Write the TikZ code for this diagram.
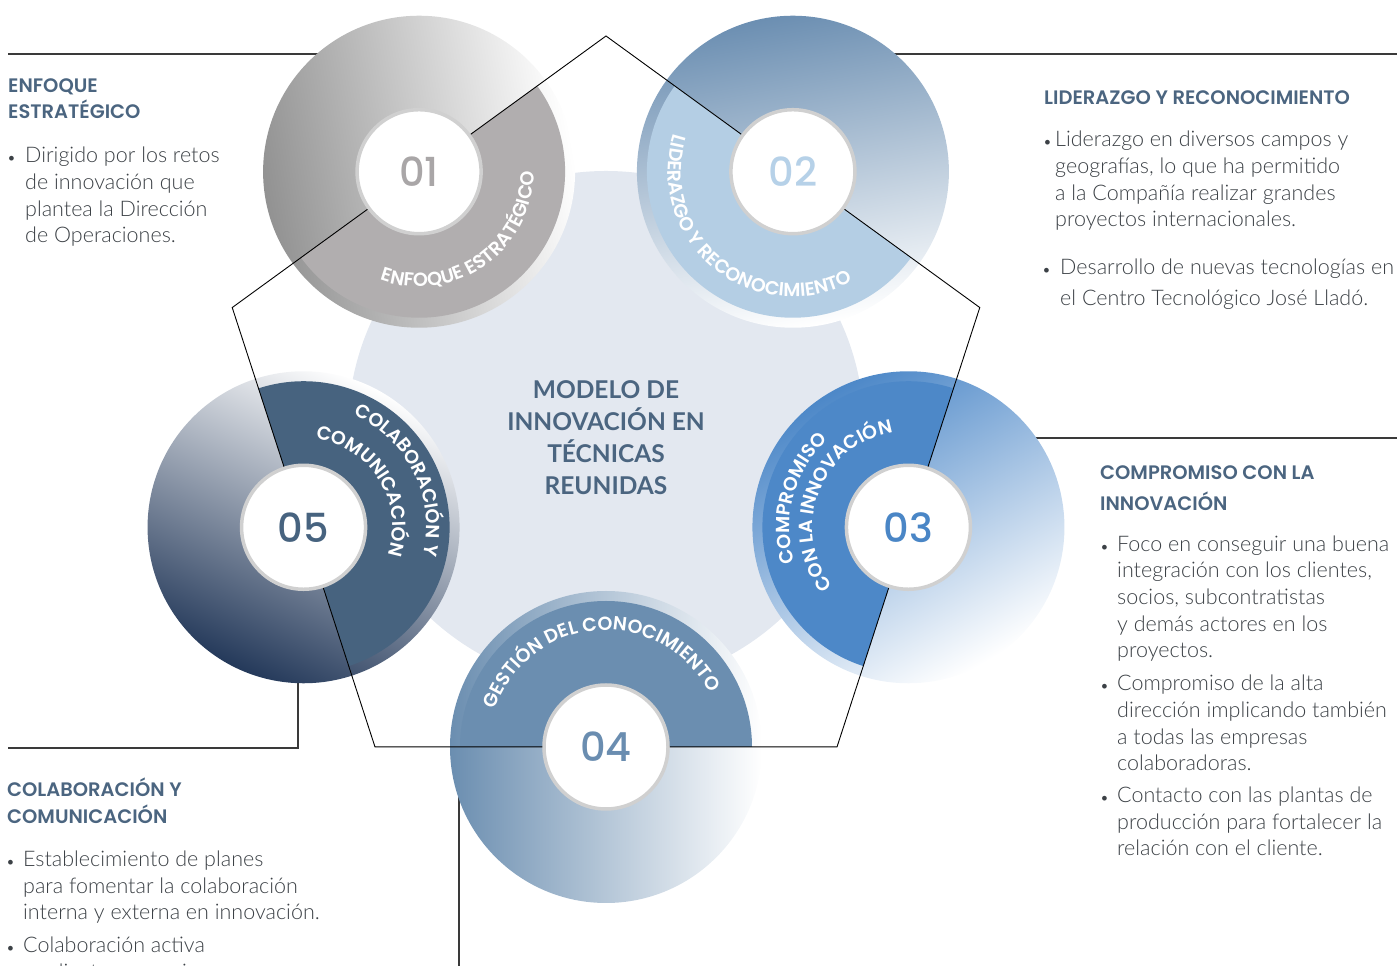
\documentclass[tikz,border=0pt]{standalone}
\usepackage{fontspec}
\setmainfont{Lato Light}[BoldFont=Lato Bold]
\newfontfamily\headfont{Poppins SemiBold}
\newfontfamily\numfont{Poppins Medium}
\usepackage{graphicx}
\usepackage{tikz}
\usetikzlibrary{calc,decorations.text}
\definecolor{slate}{HTML}{4B6580}
\definecolor{bodyink}{HTML}{3C4146}
\definecolor{hubback}{HTML}{E3E8F0}
\definecolor{hubrim}{HTML}{D0D0D0}
\definecolor{linkink}{HTML}{3A3A3A}
\definecolor{ringa}{HTML}{B1AEAF}
\definecolor{shadea}{HTML}{929292}
\definecolor{numa}{HTML}{A9A6A7}
\definecolor{ringb}{HTML}{B4CEE4}
\definecolor{shadeb}{HTML}{6C8FB2}
\definecolor{numb}{HTML}{B6D1E8}
\definecolor{ringc}{HTML}{4D88C8}
\definecolor{shadec}{HTML}{4D88C8}
\definecolor{numc}{HTML}{4A86C6}
\definecolor{ringd}{HTML}{6B8EB0}
\definecolor{shaded}{HTML}{6B8EB0}
\definecolor{numd}{HTML}{6A8DB0}
\definecolor{ringe}{HTML}{47637F}
\definecolor{shadee}{HTML}{24395A}
\definecolor{nume}{HTML}{47637F}
\tikzset{
  hub/.style={circle,fill=white,draw=hubrim,line width=3.5pt,minimum size=124pt,
    inner sep=0pt,font=\numfont\fontsize{40}{40}\selectfont},
  link/.style={draw=linkink,line width=1.2pt},
  edge/.style={draw=black,line width=0.9pt},
  head/.style={anchor=base west,align=left,inner sep=0pt,text=slate,
    font=\headfont\fontsize{19.5}{26}\selectfont},
  body/.style={anchor=base west,align=left,inner sep=0pt,text=bodyink,
    font=\fontsize{21.5}{26.7}\selectfont},
  title/.style={align=center,text=slate,font=\bfseries\fontsize{24.5}{32}\selectfont},
  arctext/.style={decorate,decoration={text along path,text={#1},text align=center,
    text color=white}}
}
\newcommand{\arcfont}{\headfont\fontsize{19}{19}\selectfont}
\newcommand{\bul}[1][8pt]{\llap{\raisebox{-1pt}{\scalebox{0.75}{•}}\hspace{#1}}}
\newcommand{\ringdisc}[5]{%
  \shade[top color=#4,bottom color=white,shading angle=#5] (#1) circle[radius=156];
  \fill[#3] (#1) ++(#2+90:146) arc[start angle=#2+90,end angle=#2+270,radius=146] -- cycle;
}

\begin{document}
\begin{tikzpicture}[x=1pt,y=1pt]
\useasboundingbox (0,0) rectangle (1397,966);
\clip (0,0) rectangle (1397,966);
\coordinate (pc) at (606,537);
\foreach \k/\a in {1/90,2/18,3/-54,4/-126,5/162}
  \coordinate (p\k) at ($(pc)+(\a:393)$);
\coordinate (c1) at ($(pc)+(126:318)$);
\coordinate (c2) at ($(pc)+(54:318)$);
\coordinate (c3) at ($(pc)+(-18:318)$);
\coordinate (c4) at ($(pc)+(-90:318)$);
\coordinate (c5) at ($(pc)+(198:318)$);

\fill[hubback] (pc) circle[radius=258];

\coordinate (tl) at (8,912);
\coordinate (tr) at (1397,912);
\coordinate (mr) at (1397,528);
\coordinate (bl) at (8,218);
\coordinate (bk) at (298,218);
\coordinate (bm) at (459,0);
\draw[link] (tl) -- (tl -| c1);
\draw[link] (tr) -- (tr -| c2);
\draw[link] (mr) -- (mr -| c3);
\draw[link] (bl) -- (bk) -- (bk |- c5);
\draw[link] (bm) -- (bm |- c4);

\ringdisc{c1}{126}{ringa}{shadea}{100}
\ringdisc{c2}{54}{ringb}{shadeb}{10}
\ringdisc{c3}{-18}{ringc}{shadec}{30}
\ringdisc{c4}{-90}{ringd}{shaded}{90}
\ringdisc{c5}{198}{ringe}{shadee}{155}

\draw[edge] (p1) -- (p2) -- (p3) -- (p4) -- (p5) -- cycle;

\node[hub,text=numa] (n1) at (c1) {01};
\node[hub,text=numb] (n2) at (c2) {02};
\node[hub,text=numc] (n3) at (c3) {03};
\node[hub,text=numd] (n4) at (c4) {04};
\node[hub,text=nume] (n5) at (c5) {05};

\path[arctext={|\arcfont|ENFOQUE ESTRATÉGICO}]
  ($(c1)+(235:115)$) arc[start angle=235,end angle=375,radius=115];
\path[arctext={|\arcfont|LIDERAZGO Y RECONOCIMIENTO}]
  ($(c2)+(145:125)$) arc[start angle=145,end angle=316,radius=125];
\path[arctext={|\arcfont|COMPROMISO}]
  ($(c3)+(215:119)$) arc[start angle=215,end angle=115,radius=119];
\path[arctext={|\arcfont|CON LA INNOVACIÓN}]
  ($(c3)+(250:96)$) arc[start angle=250,end angle=67,radius=96];
\path[arctext={|\arcfont|GESTIÓN DEL CONOCIMIENTO}]
  ($(c4)+(185:117)$) arc[start angle=185,end angle=4,radius=117];
\path[arctext={|\arcfont|COLABORACIÓN Y}]
  ($(c5)+(95:123)$) arc[start angle=95,end angle=-42,radius=123];
\path[arctext={|\arcfont|COMUNICACIÓN}]
  ($(c5)+(115:89)$) arc[start angle=115,end angle=-51,radius=89];

\node[title] (model) at (606,528) {MODELO DE\\INNOVACIÓN EN\\TÉCNICAS\\REUNIDAS};

\node[head] (h1) at (8,847) {ENFOQUE\\ESTRATÉGICO};
\node[body] (t1) at (25,723) {\bul[9pt]Dirigido por los retos\\de innovación que\\plantea la Dirección\\de Operaciones.};

\node[head] (h2) at (1044,861) {LIDERAZGO Y RECONOCIMIENTO};
\node[body] (t2a) at (1055,739) {\bul[3pt]Liderazgo en diversos campos y\\geografías, lo que ha permitido\\a la Compañía realizar grandes\\proyectos internacionales.};
\node[body,font=\fontsize{21.5}{31}\selectfont] (t2b) at (1060,660) {\bul[9pt]Desarrollo de nuevas tecnologías en\\el Centro Tecnológico José Lladó.};

\node[head,font=\headfont\fontsize{19.5}{31}\selectfont] (h3) at (1100,455) {COMPROMISO CON LA\\INNOVACIÓN};
\node[body] (t3a) at (1117,308) {\bul Foco en conseguir una buena\\integración con los clientes,\\socios, subcontratistas\\y demás actores en los\\proyectos.};
\node[body] (t3b) at (1117,195) {\bul Compromiso de la alta\\dirección implicando también\\a todas las empresas\\colaboradoras.};
\node[body] (t3c) at (1117,110) {\bul Contacto con las plantas de\\producción para fortalecer la\\relación con el cliente.};

\node[head,font=\headfont\fontsize{19.5}{27}\selectfont] (h5) at (7,142) {COLABORACIÓN Y\\COMUNICACIÓN};
\node[body] (t5a) at (23,46) {\bul Establecimiento de planes\\para fomentar la colaboración\\interna y externa en innovación.};
\node[body] (t5b) at (23,-13) {\bul Colaboración activa\\mediante convenios};
\end{tikzpicture}
\end{document}
